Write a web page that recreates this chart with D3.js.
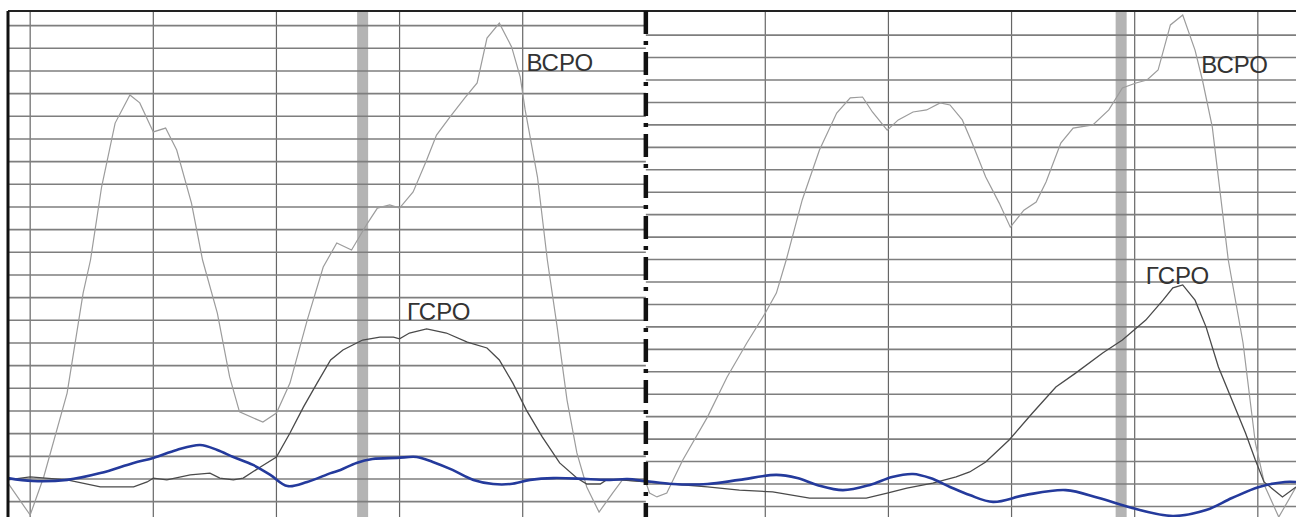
<!DOCTYPE html>
<html>
<head>
    <meta charset="utf-8">
    <script src="https://d3js.org/d3.v7.min.js"></script>
    <style>
        body { margin: 0; background: #fff; }
        svg { display: block; }
    </style>
</head>
<body>
    <svg id="chart" width="1296" height="517"></svg>
    <script>
        // time in grid divisions, amplitude in grid divisions
        var vsro = [
            [-0.18, -0.18], [0, -1.59], [0.11, 0.09], [0.30, 3.79], [0.43, 8.20], [0.49, 9.66],
            [0.58, 12.88], [0.69, 15.70], [0.81, 16.94], [0.89, 16.59], [1.00, 15.31], [1.10, 15.48],
            [1.19, 14.51], [1.31, 12.17], [1.40, 9.66], [1.52, 7.32], [1.62, 4.50], [1.70, 2.96],
            [1.89, 2.51], [2.00, 2.91], [2.11, 4.23], [2.25, 7.01], [2.38, 9.35], [2.49, 10.41],
            [2.61, 10.10], [2.74, 11.29], [2.82, 11.95], [2.92, 12.09], [3.00, 11.95], [3.11, 12.66],
            [3.22, 14.07], [3.30, 15.17], [3.41, 15.97], [3.53, 16.81], [3.63, 17.47], [3.71, 19.45],
            [3.81, 20.11], [3.91, 19.06], [3.98, 17.73], [4.02, 16.28], [4.12, 13.32], [4.20, 9.66],
            [4.28, 6.70], [4.36, 3.48], [4.44, 1.15], [4.52, -0.35], [4.62, -1.46], [4.73, -0.62],
            [4.81, -0.04], [5.00, -0.13], [5.03, -0.62], [5.09, -0.79], [5.17, -0.62], [5.30, 0.84],
            [5.50, 2.73], [5.66, 4.50], [5.82, 6.00], [5.97, 7.32], [6.06, 8.20], [6.14, 9.66],
            [6.27, 12.31], [6.41, 14.51], [6.55, 16.14], [6.66, 16.81], [6.76, 16.85], [6.84, 16.19],
            [6.96, 15.39], [7.05, 15.84], [7.17, 16.19], [7.28, 16.28], [7.39, 16.59], [7.47, 16.50],
            [7.57, 15.84], [7.65, 14.82], [7.76, 13.32], [7.87, 12.17], [7.96, 11.11], [8.07, 11.86],
            [8.17, 12.22], [8.25, 13.10], [8.37, 14.82], [8.47, 15.48], [8.63, 15.62], [8.76, 16.28],
            [8.87, 17.25], [8.98, 17.47], [9.07, 17.60], [9.16, 18.04], [9.26, 20.03], [9.36, 20.47],
            [9.46, 18.92], [9.52, 17.60], [9.60, 15.53], [9.73, 9.66], [9.85, 6.00], [9.95, 1.59],
            [10.03, -0.35], [10.14, -1.68], [10.28, -0.35]
        ];

        var gsro = [
            [-0.18, -0.04], [0, 0.09], [0.30, -0.04], [0.57, -0.35], [0.84, -0.35], [0.95, -0.13],
            [1.00, 0.04], [1.11, -0.04], [1.30, 0.18], [1.46, 0.26], [1.54, 0.04], [1.65, -0.04],
            [1.73, 0.04], [1.87, 0.53], [2.00, 0.97], [2.11, 2.03], [2.22, 3.18], [2.33, 4.23],
            [2.44, 5.25], [2.54, 5.69], [2.70, 6.13], [2.84, 6.26], [2.95, 6.26], [3.00, 6.18],
            [3.08, 6.44], [3.22, 6.62], [3.38, 6.44], [3.55, 6.04], [3.71, 5.78], [3.81, 5.25],
            [3.92, 4.23], [4.03, 3.04], [4.16, 1.85], [4.30, 0.71], [4.44, 0.04], [4.52, -0.22],
            [4.63, -0.22], [4.68, -0.04], [4.79, -0.04], [5.00, -0.13], [5.22, -0.22], [5.50, -0.35],
            [5.76, -0.49], [6.03, -0.57], [6.33, -0.84], [6.79, -0.84], [6.96, -0.62], [7.12, -0.40],
            [7.33, -0.18], [7.52, 0.09], [7.63, 0.31], [7.76, 0.75], [7.95, 1.72], [8.14, 2.91],
            [8.33, 4.06], [8.49, 4.67], [8.71, 5.56], [8.87, 6.13], [9.06, 7.01], [9.20, 7.89],
            [9.28, 8.43], [9.36, 8.56], [9.46, 7.89], [9.55, 6.70], [9.65, 4.94], [9.76, 3.48],
            [9.87, 2.03], [9.95, 0.84], [10.02, -0.13], [10.17, -0.79], [10.28, -0.35]
        ];

        var blue = [
            [-0.18, 0.04], [0.02, -0.09], [0.30, -0.04], [0.57, 0.26], [0.84, 0.71], [1.00, 0.93],
            [1.19, 1.28], [1.38, 1.50], [1.52, 1.28], [1.65, 0.97], [1.81, 0.62], [1.95, 0.18],
            [2.09, -0.31], [2.25, -0.13], [2.44, 0.26], [2.52, 0.40], [2.65, 0.71], [2.78, 0.88],
            [2.98, 0.93], [3.14, 0.97], [3.27, 0.75], [3.43, 0.40], [3.60, -0.04], [3.76, -0.22],
            [3.90, -0.22], [4.06, -0.04], [4.25, 0.04], [4.52, 0], [4.71, -0.04], [4.85, 0],
            [5.00, -0.09], [5.22, -0.22], [5.50, -0.22], [5.76, -0.04], [6.06, 0.18], [6.23, 0.04],
            [6.39, -0.26], [6.60, -0.49], [6.82, -0.26], [7.00, 0.09], [7.17, 0.22], [7.31, 0.04],
            [7.47, -0.35], [7.63, -0.71], [7.82, -1.01], [8.08, -0.71], [8.41, -0.49], [8.68, -0.84],
            [8.95, -1.28], [9.28, -1.63], [9.55, -1.37], [9.76, -0.84], [9.98, -0.35], [10.19, -0.13],
            [10.28, -0.13]
        ];

        var markers = [2.70, 8.86];   // grey bands
        var divider = 5.00;
        var labels = [
            { text: "ВСРО", t: 4.03, v: 18.0 },
            { text: "ВСРО", t: 9.51, v: 17.9 },
            { text: "ГСРО", t: 3.06, v: 7.01 },
            { text: "ГСРО", t: 9.06, v: 8.60 }
        ];

        var svg = d3.select("#chart");
        var width = +svg.attr("width");
        var height = +svg.attr("height");
        var frameTop = 11, frameLeft = 8;

        var x = d3.scaleLinear().domain([-0.18, 10.28]).range([frameLeft, width]);
        var y = d3.scaleLinear().domain([0, 20]).range([479, 479 - 20 * 22.67]);

        svg.append("clipPath").attr("id", "clip")
            .append("rect").attr("x", frameLeft).attr("y", frameTop)
            .attr("width", width - frameLeft).attr("height", height - frameTop);

        var g = svg.append("g").attr("clip-path", "url(#clip)");

        // grey bands
        g.selectAll(".band").data(markers).join("rect")
            .attr("x", d => x(d) - 5.5).attr("y", frameTop)
            .attr("width", 11).attr("height", height - frameTop)
            .attr("fill", "#b4b4b4");

        // vertical grid
        var vLeft = d3.range(0, 5);
        var vRight = d3.range(0, 5).map(k => 5.97 + k);
        g.selectAll(".vg").data(vLeft.concat(vRight)).join("line")
            .attr("x1", d => x(d)).attr("x2", d => x(d))
            .attr("y1", frameTop).attr("y2", height)
            .attr("stroke", "#666").attr("stroke-width", 1.2);

        // horizontal grid, the two panels are offset
        var hLeft = d3.range(-1, 21);
        var hRight = d3.range(-1, 21).map(k => -0.22 + k * 0.99);
        g.selectAll(".hl").data(hLeft).join("line")
            .attr("x1", frameLeft).attr("x2", x(divider))
            .attr("y1", d => y(d)).attr("y2", d => y(d))
            .attr("stroke", "#7e7e7e").attr("stroke-width", 1.6);
        g.selectAll(".hr").data(hRight).join("line")
            .attr("x1", x(divider)).attr("x2", width)
            .attr("y1", d => y(d)).attr("y2", d => y(d))
            .attr("stroke", "#7e7e7e").attr("stroke-width", 1.6);

        var line = d3.line().x(d => x(d[0])).y(d => y(d[1]));

        g.append("path").datum(vsro)
            .attr("d", line).attr("fill", "none")
            .attr("stroke", "#9c9c9c").attr("stroke-width", 1.2);

        g.append("path").datum(gsro)
            .attr("d", line).attr("fill", "none")
            .attr("stroke", "#4a4a4a").attr("stroke-width", 1.3);

        g.append("path").datum(blue)
            .attr("d", line.curve(d3.curveCatmullRom)).attr("fill", "none")
            .attr("stroke", "#243a9c").attr("stroke-width", 2.6);

        // frame
        svg.append("line")
            .attr("x1", frameLeft).attr("x2", width).attr("y1", frameTop).attr("y2", frameTop)
            .attr("stroke", "#222").attr("stroke-width", 2);
        svg.append("line")
            .attr("x1", frameLeft).attr("x2", frameLeft).attr("y1", frameTop).attr("y2", height)
            .attr("stroke", "#111").attr("stroke-width", 3);

        // dash-dot divider between the two records
        svg.append("line")
            .attr("x1", x(divider)).attr("x2", x(divider))
            .attr("y1", frameTop).attr("y2", height)
            .attr("stroke", "#111").attr("stroke-width", 4.5)
            .attr("stroke-dasharray", "23,7,4,7");

        svg.selectAll(".lbl").data(labels).join("text")
            .attr("x", d => x(d.t)).attr("y", d => y(d.v))
            .attr("font-family", "Liberation Sans, Arial, sans-serif")
            .attr("font-size", 24)
            .attr("fill", "#333")
            .text(d => d.text);
    </script>
</body>
</html>
